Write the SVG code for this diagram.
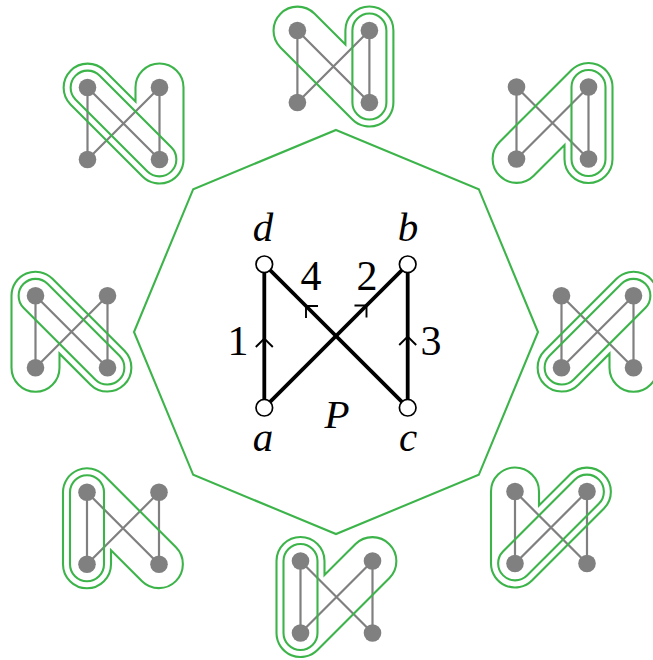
<svg xmlns="http://www.w3.org/2000/svg" xmlns:xlink="http://www.w3.org/1999/xlink" width="653" height="660" viewBox="0 0 653 660">
<style>
.oct{fill:none;stroke:#3cb44a;stroke-width:2.1}
.grn{fill:none;stroke:#3cb44a;stroke-width:2.1}
.ge{fill:none;stroke:#808080;stroke-width:2.2}
.gn{fill:#808080}
.edge{fill:none;stroke:#000;stroke-width:3.8;marker-mid:url(#chev)}
.node{fill:#fff;stroke:#000;stroke-width:1.7}
.lbl{font-family:"Liberation Serif",serif;font-size:41px;font-style:italic;fill:#000;text-anchor:middle}
.num{font-family:"Liberation Serif",serif;font-size:42px;fill:#000;text-anchor:middle}
</style>
<defs>
<marker id="chev" markerUnits="userSpaceOnUse" markerWidth="20" markerHeight="20" viewBox="-10 -10 20 20" refX="0" refY="0" orient="auto" overflow="visible">
<path d="M-8.5,-8.5 L0,0 L-8.5,8.5" fill="none" stroke="#000" stroke-width="1.9"/>
</marker>
<g id="base">
<path class="ge" d="M-36,-36 V36 M36,-36 V36 M-36,-36 L36,36 M-36,36 L36,-36"/>
<circle class="gn" cx="-36" cy="-36" r="8.8"/>
<circle class="gn" cx="36" cy="-36" r="8.8"/>
<circle class="gn" cx="-36" cy="36" r="8.8"/>
<circle class="gn" cx="36" cy="36" r="8.8"/>
<path class="grn" d="M12,-21.94 L12,-36 A24,24 0 0 1 60,-36 L60,36 A24,24 0 0 1 19.03,52.97 L-52.97,-19.03 A24,24 0 0 1 -19.03,-52.97 Z"/>
</g>
<g id="figA">
<use xlink:href="#base"/>
<path class="grn" d="M19,-36 A17,17 0 0 1 53,-36 L53,36 A17,17 0 0 1 19,36 Z"/>
</g>
<g id="figB">
<use xlink:href="#base"/>
<path class="grn" d="M-23.98,-48.02 L48.02,23.98 A17,17 0 0 1 23.98,48.02 L-48.02,-23.98 A17,17 0 0 1 -23.98,-48.02 Z"/>
</g>
</defs>
<rect width="653" height="660" fill="#fff"/>
<g id="octagon">
<polygon class="oct" points="336,130 478.8,189.2 538,332 478.8,474.8 336,534 193.2,474.8 134,332 193.2,189.2"/>
</g>
<g id="fig-top"><use xlink:href="#figA" transform="translate(333.4,66.5)"/></g>
<g id="fig-topleft"><use xlink:href="#figB" transform="translate(123.5,123.5)"/></g>
<g id="fig-topright"><use xlink:href="#figA" transform="translate(552.5,123) scale(1,-1)"/></g>
<g id="fig-left"><use xlink:href="#figB" transform="translate(71.5,331.7) rotate(180)"/></g>
<g id="fig-right"><use xlink:href="#figB" transform="translate(597.5,331.7) scale(1,-1)"/></g>
<g id="fig-bottomleft"><use xlink:href="#figA" transform="translate(123,528.3) rotate(180)"/></g>
<g id="fig-bottomright"><use xlink:href="#figB" transform="translate(551,527.5) scale(-1,1)"/></g>
<g id="fig-bottom"><use xlink:href="#figA" transform="translate(336.5,597) scale(-1,1)"/></g>
<g id="connectors">
<path class="edge" d="M264.3,407.7 L264.3,338.5 L264.3,264.3"/>
<path class="edge" d="M407.7,407.7 L407.7,336.5 L407.7,264.3"/>
<path class="edge" d="M264.3,407.7 L366.5,305.5 L407.7,264.3"/>
<path class="edge" d="M407.7,407.7 L306,306 L264.3,264.3"/>
<text class="num" x="238" y="355">1</text>
<text class="num" x="367" y="290">2</text>
<text class="num" x="431" y="355">3</text>
<text class="num" x="311" y="290">4</text>
</g>
<g id="node-d"><circle class="node" cx="264.3" cy="264.3" r="8.3"/><text class="lbl" x="263" y="241">d</text></g>
<g id="node-b"><circle class="node" cx="407.7" cy="264.3" r="8.3"/><text class="lbl" x="408" y="241">b</text></g>
<g id="node-a"><circle class="node" cx="264.3" cy="407.7" r="8.3"/><text class="lbl" x="263" y="451">a</text></g>
<g id="node-c"><circle class="node" cx="407.7" cy="407.7" r="8.3"/><text class="lbl" x="408" y="451">c</text></g>
<g id="label-P"><text class="lbl" x="337" y="428">P</text></g>
</svg>
